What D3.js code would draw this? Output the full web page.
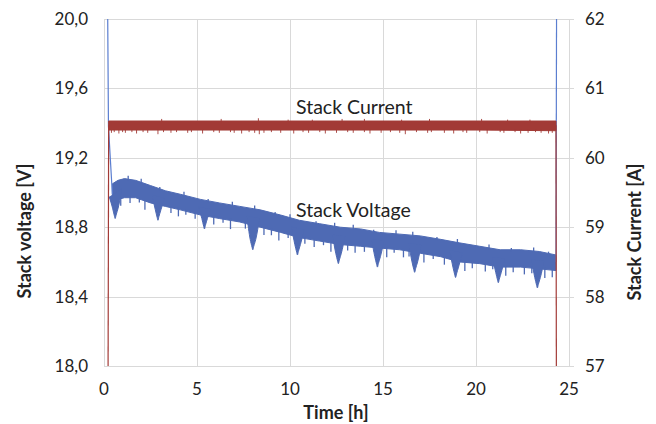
<!DOCTYPE html>
<html>
<head>
<meta charset="utf-8">
<script src="https://cdn.jsdelivr.net/npm/d3@7"></script>
<style>
  body { margin: 0; background: #fff; }
  text { font-family: Lato, "Open Sans", sans-serif; fill: #222; }
</style>
</head>
<body>
<svg id="chart"></svg>
<script>
  var w = 656, h = 424;

  // voltage band (upper / lower envelope of the noisy trace), hours and volts
  var voltT    = [0.45, 0.75, 1.1, 1.7, 2.5, 3.3, 4.1, 5.2, 6.2, 7.3, 8.4, 9.5, 10.5, 11.6, 12.7, 13.8, 14.8, 15.9, 17.0, 18.1, 19.1, 20.2, 21.3, 22.4, 23.4, 24.3];
  var voltHigh = [19.05, 19.07, 19.08, 19.07, 19.04, 19.01, 18.99, 18.96, 18.94, 18.92, 18.90, 18.87, 18.84, 18.82, 18.80, 18.79, 18.77, 18.76, 18.75, 18.73, 18.71, 18.69, 18.67, 18.67, 18.66, 18.64];
  var voltLow  = [18.93, 18.96, 18.97, 18.97, 18.94, 18.92, 18.90, 18.87, 18.85, 18.83, 18.80, 18.77, 18.74, 18.72, 18.70, 18.69, 18.68, 18.67, 18.65, 18.63, 18.60, 18.59, 18.57, 18.57, 18.56, 18.55];
  // periodic voltage dips
  var dipT = [0.6, 2.9, 5.4, 8.0, 10.4, 12.6, 14.7, 16.7, 18.9, 21.2, 23.3];
  var dipV = [18.85, 18.84, 18.79, 18.67, 18.64, 18.59, 18.57, 18.54, 18.51, 18.48, 18.45];
  // small noise spikes below / above the voltage band (depth in volts)
  var vDownT = [0.9, 1.4, 1.9, 2.2, 3.6, 4.0, 4.4, 4.9, 5.9, 6.4, 6.8, 7.6, 8.6, 9.0, 9.4, 9.9, 10.8, 11.3, 11.8, 12.2, 13.1, 13.5, 14.0, 15.2, 15.6, 16.1, 16.4, 17.2, 17.7, 18.3, 19.4, 19.8, 20.5, 20.9, 21.6, 22.0, 22.6, 23.0, 23.7, 24.1];
  var vDownD = [0.04, 0.03, 0.02, 0.05, 0.03, 0.04, 0.02, 0.03, 0.04, 0.02, 0.05, 0.03, 0.04, 0.03, 0.05, 0.02, 0.03, 0.04, 0.02, 0.05, 0.03, 0.04, 0.03, 0.05, 0.02, 0.04, 0.03, 0.05, 0.02, 0.04, 0.05, 0.03, 0.04, 0.02, 0.05, 0.03, 0.04, 0.03, 0.05, 0.04];
  var vUpT = [1.3, 2.0, 3.0, 4.3, 5.6, 6.9, 8.1, 9.2, 10.0, 11.4, 12.4, 13.4, 14.5, 15.7, 16.6, 17.9, 19.0, 20.7, 21.9, 23.1, 23.9];
  var vUpD = [0.02, 0.02, 0.01, 0.02, 0.01, 0.02, 0.02, 0.01, 0.02, 0.01, 0.02, 0.02, 0.01, 0.02, 0.02, 0.01, 0.02, 0.02, 0.01, 0.02, 0.01];
  // start-up and shut-down parts of the voltage trace
  var voltStartT = [0.2, 0.24, 0.45];
  var voltStartV = [20.0, 19.38, 18.99];
  var voltEndT = [24.3, 24.33];
  var voltEndV = [18.60, 20.0];

  // current band
  var curT    = [0.25, 5, 10, 15, 20, 24.3];
  var curHigh = [60.53, 60.53, 60.53, 60.53, 60.53, 60.53];
  var curLow  = [60.40, 60.40, 60.40, 60.40, 60.40, 60.39];
  var curSpikeT = [0.4, 0.55, 0.8, 1.0, 1.15, 1.5, 1.75, 2.1, 2.35, 2.9, 3.2, 3.6, 3.9, 4.5, 4.7, 5.3, 5.9, 6.2, 6.8, 7.0, 7.4, 7.8, 8.1, 8.35, 8.6, 9.0, 9.5, 10.2, 10.7, 11.0, 11.6, 11.9, 12.5, 13.1, 13.4, 14.0, 14.3, 14.9, 15.4, 15.9, 16.2, 16.8, 17.4, 17.6, 18.3, 18.8, 19.3, 19.5, 20.2, 20.6, 21.3, 21.5, 22.1, 22.4, 22.8, 23.2, 23.5, 23.9, 24.1];
  var curSpikeV = [60.36, 60.37, 60.35, 60.37, 60.36, 60.37, 60.35, 60.37, 60.36, 60.34, 60.37, 60.36, 60.37, 60.36, 60.37, 60.35, 60.37, 60.36, 60.37, 60.36, 60.35, 60.37, 60.36, 60.34, 60.36, 60.37, 60.36, 60.35, 60.37, 60.36, 60.37, 60.35, 60.36, 60.37, 60.36, 60.37, 60.35, 60.36, 60.37, 60.36, 60.34, 60.37, 60.36, 60.37, 60.36, 60.35, 60.37, 60.36, 60.37, 60.35, 60.37, 60.36, 60.37, 60.35, 60.36, 60.37, 60.36, 60.35, 60.36];
  var curUpT = [3.1, 6.3, 8.3, 9.9, 11.2, 12.8, 14.0, 16.0, 17.5, 20.3, 21.7, 22.9];
  var curUpV = [60.56, 60.56, 60.57, 60.55, 60.55, 60.56, 60.56, 60.55, 60.56, 60.56, 60.55, 60.55];
  var curStartT = [0.22, 0.25];
  var curStartV = [57.0, 60.47];
  var curEndT = [24.3, 24.32];
  var curEndV = [60.47, 57.0];

  var xTicks = [0, 5, 10, 15, 20, 25];
  var vTicks = [18.0, 18.4, 18.8, 19.2, 19.6, 20.0];
  var iTicks = [57, 58, 59, 60, 61, 62];

  var blue = "#4e6ab4", blueLine = "#5b7ed0", red = "#a23a36";

  var svg = d3.select("#chart").attr("width", w).attr("height", h);

  var x = d3.scaleLinear().domain([0, 25]).range([104, 569]);
  var yV = d3.scaleLinear().domain([18, 20]).range([366, 19]);
  var yI = d3.scaleLinear().domain([57, 62]).range([366, 19]);
  var comma = d3.formatLocale({decimal: ",", thousands: ".", grouping: [3], currency: ["", ""]}).format(".1f");

  // gridlines
  svg.append("g").selectAll("line").data(vTicks).enter().append("line")
    .attr("x1", 104).attr("x2", 574)
    .attr("y1", function(d) { return Math.round(yV(d)) + 0.5; })
    .attr("y2", function(d) { return Math.round(yV(d)) + 0.5; })
    .attr("stroke", "#d9d9d9");
  svg.append("g").selectAll("line").data(xTicks).enter().append("line")
    .attr("x1", function(d) { return Math.round(x(d)) + 0.5; })
    .attr("x2", function(d) { return Math.round(x(d)) + 0.5; })
    .attr("y1", 19).attr("y2", 366)
    .attr("stroke", "#d9d9d9");

  // tick labels
  svg.append("g").selectAll("text").data(vTicks).enter().append("text")
    .attr("x", 88).attr("y", function(d) { return yV(d); })
    .attr("dy", "0.35em").attr("text-anchor", "end").attr("font-size", 17)
    .text(function(d) { return comma(d); });
  svg.append("g").selectAll("text").data(iTicks).enter().append("text")
    .attr("x", 585).attr("y", function(d) { return yI(d); })
    .attr("dy", "0.35em").attr("font-size", 17)
    .text(function(d) { return d; });
  svg.append("g").selectAll("text").data(xTicks).enter().append("text")
    .attr("x", function(d) { return x(d); }).attr("y", 395)
    .attr("text-anchor", "middle").attr("font-size", 17)
    .text(function(d) { return d; });

  // axis titles
  svg.append("text").attr("x", 336).attr("y", 419).attr("text-anchor", "middle")
    .attr("font-size", 18).attr("font-weight", "bold").text("Time [h]");
  svg.append("text").attr("transform", "translate(31,231) rotate(-90)")
    .attr("text-anchor", "middle").attr("font-size", 18).attr("font-weight", "bold")
    .text("Stack voltage [V]");
  svg.append("text").attr("transform", "translate(641,232) rotate(-90)")
    .attr("text-anchor", "middle").attr("font-size", 18).attr("font-weight", "bold")
    .text("Stack Current [A]");

  var plot = svg.append("g");

  // voltage band
  var vband = voltT.map(function(t, i) { return [t, voltHigh[i], voltLow[i]]; });
  plot.append("path").datum(vband)
    .attr("d", d3.area().x(function(d) { return x(d[0]); })
      .y0(function(d) { return yV(d[2]); }).y1(function(d) { return yV(d[1]); }))
    .attr("fill", blue).attr("stroke", blue).attr("stroke-width", 1);

  var lowV = d3.scaleLinear().domain(voltT).range(voltLow);
  var highV = d3.scaleLinear().domain(voltT).range(voltHigh);
  var midV = function(t) { return (lowV(t) + highV(t)) / 2; };

  // dips hang below the band
  var dipLine = d3.line().curve(d3.curveMonotoneX)
    .x(function(d) { return x(d[0]); }).y(function(d) { return yV(d[1]); });
  dipT.forEach(function(t, i) {
    var pts = [[t - 0.32, midV(t - 0.32)], [t - 0.14, dipV[i] + 0.06], [t - 0.04, dipV[i] + 0.015], [t, dipV[i]],
               [t + 0.05, dipV[i] + 0.02], [t + 0.16, dipV[i] + 0.06], [t + 0.36, midV(t + 0.36)]];
    plot.append("path").datum(pts)
      .attr("d", dipLine).attr("fill", blue).attr("stroke", blue).attr("stroke-width", 1);
  });

  // noise spikes
  plot.append("g").selectAll("line").data(vDownT).enter().append("line")
    .attr("x1", function(d) { return x(d); }).attr("x2", function(d) { return x(d); })
    .attr("y1", function(d) { return yV(lowV(d) + 0.01); })
    .attr("y2", function(d, i) { return yV(lowV(d) - vDownD[i]); })
    .attr("stroke", blue).attr("stroke-width", 1.3);
  plot.append("g").selectAll("line").data(vUpT).enter().append("line")
    .attr("x1", function(d) { return x(d); }).attr("x2", function(d) { return x(d); })
    .attr("y1", function(d) { return yV(highV(d) - 0.01); })
    .attr("y2", function(d, i) { return yV(highV(d) + vUpD[i]); })
    .attr("stroke", blue).attr("stroke-width", 1.3);

  var vLine = d3.line().x(function(d) { return x(d[0]); }).y(function(d) { return yV(d[1]); });
  plot.append("path").datum(voltStartT.map(function(t, i) { return [t, voltStartV[i]]; }))
    .attr("d", vLine).attr("fill", "none").attr("stroke", blueLine).attr("stroke-width", 1.2);
  plot.append("path").datum(voltEndT.map(function(t, i) { return [t, voltEndV[i]]; }))
    .attr("d", vLine).attr("fill", "none").attr("stroke", blueLine).attr("stroke-width", 1.2);

  // current band
  var cband = curT.map(function(t, i) { return [t, curHigh[i], curLow[i]]; });
  plot.append("path").datum(cband)
    .attr("d", d3.area().x(function(d) { return x(d[0]); })
      .y0(function(d) { return yI(d[2]); }).y1(function(d) { return yI(d[1]); }))
    .attr("fill", red).attr("stroke", red).attr("stroke-width", 1);
  plot.append("g").selectAll("line").data(curSpikeT).enter().append("line")
    .attr("x1", function(d) { return x(d); }).attr("x2", function(d) { return x(d); })
    .attr("y1", yI(60.41)).attr("y2", function(d, i) { return yI(curSpikeV[i]); })
    .attr("stroke", red).attr("stroke-width", 0.9);
  plot.append("g").selectAll("line").data(curUpT).enter().append("line")
    .attr("x1", function(d) { return x(d); }).attr("x2", function(d) { return x(d); })
    .attr("y1", yI(60.52)).attr("y2", function(d, i) { return yI(curUpV[i]); })
    .attr("stroke", red).attr("stroke-width", 0.9);

  var iLine = d3.line().x(function(d) { return x(d[0]); }).y(function(d) { return yI(d[1]); });
  plot.append("path").datum(curStartT.map(function(t, i) { return [t, curStartV[i]]; }))
    .attr("d", iLine).attr("fill", "none").attr("stroke", red).attr("stroke-width", 1.2);
  plot.append("path").datum(curEndT.map(function(t, i) { return [t, curEndV[i]]; }))
    .attr("d", iLine).attr("fill", "none").attr("stroke", red).attr("stroke-width", 1.2);

  // series labels
  svg.append("text").attr("x", 296).attr("y", 114).attr("font-size", 19.5).text("Stack Current");
  svg.append("text").attr("x", 296).attr("y", 217).attr("font-size", 19.5).text("Stack Voltage");
</script>
</body>
</html>
